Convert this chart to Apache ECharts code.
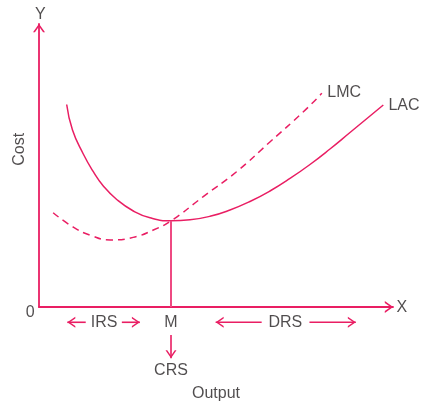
<!DOCTYPE html>
<html>
<head>
<meta charset="utf-8">
<script src="https://cdn.jsdelivr.net/npm/echarts@6/dist/echarts.min.js"></script>
<style>
html,body{margin:0;padding:0;background:#fff;}
#chart{width:425px;height:403px;}
</style>
</head>
<body>
<div id="chart"></div>
<script>
// ---- Data (Output 0-100, Cost 0-100) ----
const lacOutput = [7.82, 9.46, 12.51, 15.34, 18.16, 21.95, 26.64, 31.36, 37.29, 42.66, 48.31, 53.95, 59.60, 65.25, 70.90, 76.55, 82.20, 87.85, 93.50, 97.26];
const lacCost   = [71.55, 62.54, 54.06, 47.81, 42.76, 37.99, 33.92, 31.52, 30.46, 30.81, 32.05, 34.28, 37.28, 40.99, 45.41, 50.35, 55.83, 61.66, 67.49, 71.38];
const lmcOutput = [4.0, 9.7, 14.4, 20.1, 26.6, 32.3, 37.29, 46.4, 55.8, 65.3, 74.7, 79.9];
const lmcCost   = [33.3, 28.2, 25.4, 23.7, 24.6, 27.2, 30.46, 39.0, 47.8, 58.4, 69.0, 75.5];

// point M (minimum of LAC, where LMC cuts it)
const mOutput = 37.29;
const mCost = 30.46;

// Range arrows below the axis
const arrowTailX = [13.2, 23.4, 62.9, 76.4, 37.29];
const arrowTailY = [-5.4, -5.4, -5.4, -5.4, -9.9];
const arrowTipX  = [8.0, 28.5, 49.9, 89.5, 37.29];
const arrowTipY  = [-5.4, -5.4, -5.4, -5.4, -18.1];
const arrowDir   = ['left', 'right', 'left', 'right', 'down'];

// Text annotations
const labelTexts = ['Y', 'X', '0', 'Cost', 'LMC', 'LAC', 'IRS', 'M', 'DRS', 'CRS', 'Output'];
const labelX     = [0.4, 102.5, -2.5, -5.5, 86.2, 103.1, 18.4, 37.29, 69.6, 37.29, 50.0];
const labelY     = [103.2, -0.2, -1.8, 55.7, 75.8, 71.0, -5.4, -5.4, -5.4, -22.6, -30.6];
const labelRotate= [0, 0, 0, 90, 0, 0, 0, 0, 0, 0, 0];

// ---- Styling ----
const RED = '#e91e63';
const TXT = '#231f20';
const FONT = '"Liberation Sans", Arial, sans-serif';
const chevron = 'path://M50,0 L100,70 L84,70 L50,22 L16,70 L0,70 Z';

const zip = (a, b) => a.map((v, i) => [v, b[i]]);

const rotMap = { left: 90, right: -90, down: 180, up: 0 };
const offMap = { left: [4, 0], right: [-4, 0], down: [0, -4], up: [0, 4] };

const arrowSeries = arrowDir.map((d, i) => ({
  type: 'line',
  clip: false,
  silent: true,
  showSymbol: true,
  lineStyle: { color: RED, width: 1.6 },
  itemStyle: { color: RED },
  data: [
    { value: [arrowTailX[i], arrowTailY[i]], symbol: 'none' },
    { value: [arrowTipX[i], arrowTipY[i]], symbol: chevron, symbolSize: [11, 8],
      symbolRotate: rotMap[d], symbolOffset: offMap[d] }
  ]
}));

const axisBase = {
  type: 'value',
  min: 0,
  max: 100,
  axisLine: {
    show: true,
    onZero: false,
    symbol: ['none', chevron],
    symbolSize: [12, 9],
    symbolOffset: [0, -4],
    lineStyle: { color: RED, width: 1.8 }
  },
  axisTick: { show: false },
  axisLabel: { show: false },
  splitLine: { show: false }
};

const option = {
  animation: false,
  backgroundColor: '#fff',
  grid: { left: 39, right: 32, top: 24, bottom: 96 },
  xAxis: Object.assign({}, axisBase),
  yAxis: Object.assign({}, axisBase),
  series: [
    {
      name: 'LAC',
      type: 'line',
      smooth: 0.5,
      showSymbol: false,
      silent: true,
      lineStyle: { color: RED, width: 1.5 },
      data: zip(lacOutput, lacCost)
    },
    {
      name: 'LMC',
      type: 'line',
      smooth: 0.5,
      showSymbol: false,
      silent: true,
      lineStyle: { color: RED, width: 1.5, type: [7, 5] },
      data: zip(lmcOutput, lmcCost)
    },
    {
      name: 'M',
      type: 'line',
      showSymbol: false,
      silent: true,
      lineStyle: { color: '#ee4a82', width: 2 },
      data: [[mOutput, 0], [mOutput, mCost]]
    }
  ].concat(arrowSeries).concat([
    {
      type: 'scatter',
      clip: false,
      silent: true,
      symbolSize: 1,
      itemStyle: { color: 'transparent' },
      label: {
        show: true,
        position: 'inside',
        color: TXT,
        fontFamily: FONT,
        fontSize: 16,
        formatter: p => p.name
      },
      data: labelTexts.map((t, i) => ({
        name: t,
        value: [labelX[i], labelY[i]],
        label: { rotate: labelRotate[i] }
      }))
    }
  ])
};

const chart = echarts.init(document.getElementById('chart'), null, { renderer: 'canvas' });
chart.setOption(option);
</script>
</body>
</html>
